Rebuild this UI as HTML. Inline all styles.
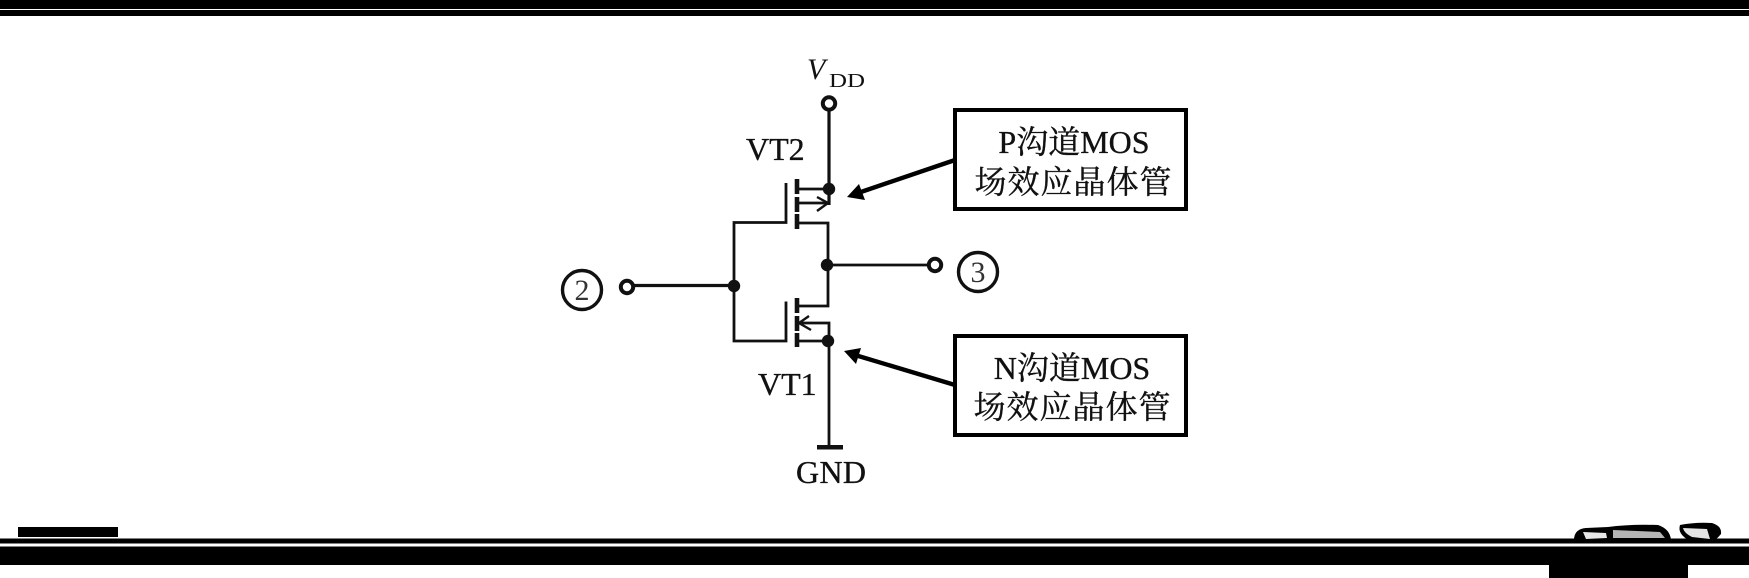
<!DOCTYPE html>
<html><head><meta charset="utf-8"><style>
html,body{margin:0;padding:0;background:#fff;width:1749px;height:578px;overflow:hidden}
svg{display:block}
text{font-family:"Liberation Serif","Noto Serif CJK SC",serif;fill:#111}
.b{stroke:#111;stroke-width:.35}
</style></head><body>
<svg width="1749" height="578" viewBox="0 0 1749 578" xmlns="http://www.w3.org/2000/svg">
<rect width="1749" height="578" fill="#fff"/>
<!-- page rules -->
<rect x="0" y="0" width="1749" height="9" fill="#000"/>
<rect x="0" y="10" width="1749" height="6" fill="#000"/>
<rect x="18" y="527" width="100" height="10" fill="#000"/>
<rect x="0" y="538.5" width="1749" height="5" fill="#000"/>
<rect x="0" y="546.5" width="1749" height="18.5" fill="#000"/>
<rect x="1549" y="565" width="139" height="13" fill="#000"/>
<!-- pen ornaments -->
<path d="M1574 540 Q1574 529 1586 528 L1608 527 Q1630 524 1658 525 Q1670 529 1671 540 Z" fill="#000"/>
<path d="M1583 532 L1606 533 L1607 538 L1586 539 Z" fill="#e8e8e8"/>
<path d="M1613 530 L1660 532 L1665 538 L1613 538 Z" fill="#b5b5b5"/>
<path d="M1680 525 Q1695 522 1712 523 Q1722 526 1721 534 Q1716 540 1712 542 L1690 541 Q1677 534 1680 525 Z" fill="#000"/>
<path d="M1683 528 L1707 529 L1710 539 L1692 537 Q1684 533 1683 528 Z" fill="#e4e4e4"/>
<!-- circuit -->
<g fill="none" stroke="#111" stroke-width="2.8">
<path d="M829 110V205" stroke-width="3.2"/>
<path d="M797 189H829"/>
<path d="M797 203H827"/>
<path d="M817 197L828 203L817 211" stroke-width="2.4"/>
<path d="M797 223H828V306H797"/>
<path d="M786 183V222.5H734V341H786V301.5"/>
<path d="M828 265H930"/>
<path d="M632 285.5H734" stroke-width="3.2"/>
<path d="M797 323H829V445"/>
<path d="M797 341H829"/>
<path d="M809 316L799 323L811 330" stroke-width="2.4"/>
</g>
<g stroke="#111" stroke-width="4.6" fill="none">
<path d="M797 179V194M797 197V212M797 214V229"/>
<path d="M797 298V313M797 316V331M797 333V347"/>
</g>
<g fill="#111">
<circle cx="829" cy="189" r="6.2"/>
<circle cx="827" cy="265" r="6.2"/>
<circle cx="734" cy="286" r="6.2"/>
<circle cx="828" cy="341" r="6.2"/>
<rect x="817" y="445" width="26" height="4.5"/>
</g>
<g fill="#fff" stroke="#111" stroke-width="4">
<circle cx="829" cy="103.5" r="6.2"/>
<circle cx="935" cy="265" r="6.2"/>
<circle cx="627" cy="287" r="6.2"/>
</g>
<g fill="none" stroke="#111" stroke-width="3.4">
<circle cx="582" cy="290" r="19.5"/>
<circle cx="978" cy="272" r="19.5"/>
</g>
<text x="582" y="300" font-size="30" text-anchor="middle" style="fill:#333">2</text>
<text x="978" y="282" font-size="30" text-anchor="middle" style="fill:#333">3</text>
<!-- labels -->
<text x="807" y="79" font-size="30" font-style="italic">V</text>
<text x="829" y="87" font-size="20" textLength="36" lengthAdjust="spacingAndGlyphs">DD</text>
<text class="b" x="746" y="160" font-size="32">VT2</text>
<text class="b" x="758" y="395" font-size="32">VT1</text>
<text class="b" x="796" y="483" font-size="32" textLength="70" lengthAdjust="spacing">GND</text>
<!-- pointer arrows -->
<path d="M955 160L858 193" stroke="#000" stroke-width="4.4" fill="none"/>
<path d="M847 197L859 184L865 200Z" fill="#000"/>
<path d="M955 385L855 355" stroke="#000" stroke-width="4.4" fill="none"/>
<path d="M844 351L861 348L856 364Z" fill="#000"/>
<!-- callouts -->
<rect x="955" y="110" width="231" height="99" fill="#fff" stroke="#000" stroke-width="4"/>
<rect x="955" y="336" width="231" height="99" fill="#fff" stroke="#000" stroke-width="4"/>
<text class="b" x="1074" y="153" font-size="32" text-anchor="middle">P沟道MOS</text>
<text class="b" x="1073.5" y="193" font-size="32" text-anchor="middle" letter-spacing="1">场效应晶体管</text>
<text class="b" x="1072" y="379" font-size="32" text-anchor="middle">N沟道MOS</text>
<text class="b" x="1072.5" y="418" font-size="32" text-anchor="middle" letter-spacing="1">场效应晶体管</text>
</svg>
</body></html>
